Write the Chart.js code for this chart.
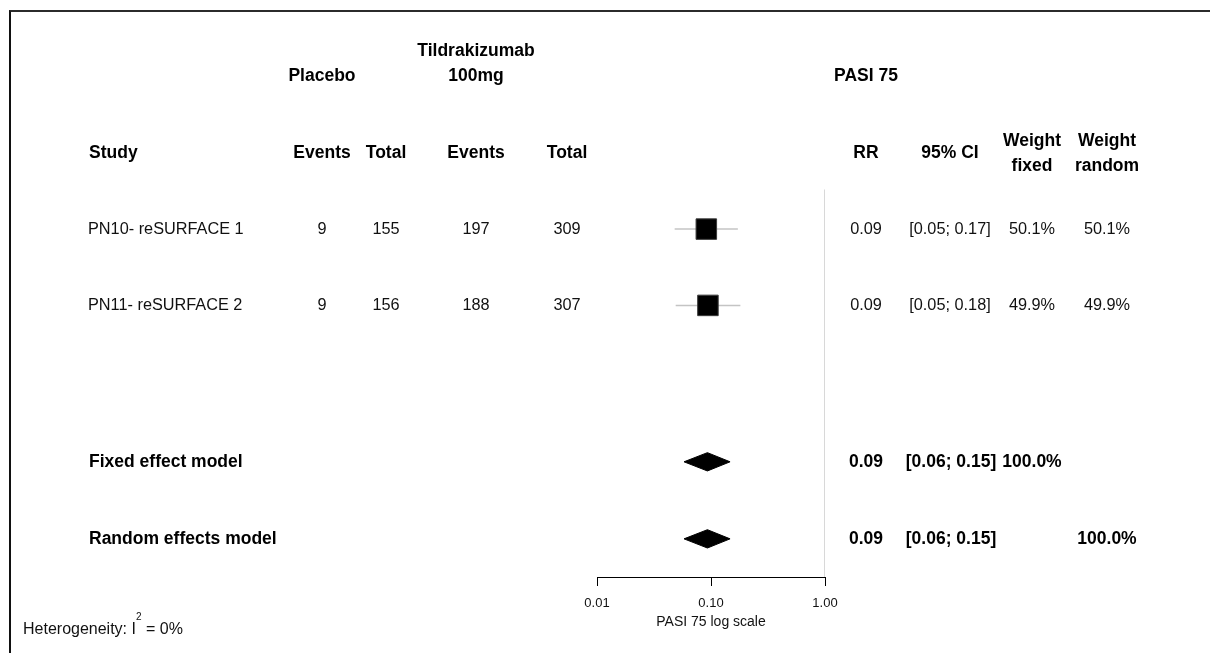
<!DOCTYPE html>
<html>
<head>
<meta charset="utf-8">
<title>PASI 75 forest plot</title>
<script src="https://cdn.jsdelivr.net/npm/chart.js@4.4.1/dist/chart.umd.min.js"></script>
<style>
  html, body { margin: 0; padding: 0; background: #fff; }
  #wrap { position: relative; width: 1210px; height: 653px; overflow: hidden; }
  #forest { position: absolute; left: 0; top: 0; }
  #frame {
    position: absolute; left: 9px; top: 10px; right: -4px; bottom: -4px;
    border-top: 2px solid #2b2b2b; border-left: 2px solid #111;
  }
</style>
</head>
<body>
<div id="wrap">
  <canvas id="forest" width="1210" height="653"></canvas>
  <div id="frame"></div>
</div>
<script>
/* ---------- DATA ---------- */
const studies = ["PN10- reSURFACE 1", "PN11- reSURFACE 2"];
const placeboEvents = [9, 9];
const placeboTotal = [155, 156];
const tildEvents = [197, 188];
const tildTotal = [309, 307];
const rr = [0.091, 0.094];
const ciLower = [0.048, 0.049];
const ciUpper = [0.172, 0.181];
const weightFixed = ["50.1%", "49.9%"];
const weightRandom = ["50.1%", "49.9%"];

const pooledNames = ["Fixed effect model", "Random effects model"];
const pooledRR = [0.093, 0.093];
const pooledLower = [0.058, 0.058];
const pooledUpper = [0.147, 0.147];
const pooledWeightFixed = ["100.0%", ""];
const pooledWeightRandom = ["", "100.0%"];

// table rows (y = row index, header row is 0)
const studyRows = [1, 2];
const pooledRows = [4.05, 5.06];
const axisTicks = [0.01, 0.1, 1];
const axisTitle = "PASI 75 log scale";

const FONT = '"Liberation Sans", Arial, sans-serif';
const DIAMOND_HALF = 0.12; // half height of summary diamonds, in rows
const Y_MIN = -1.8, Y_MAX = 5.56;

/* ---------- DATASETS ---------- */
const datasets = [];

// study squares (on top)
datasets.push({
  type: "scatter",
  data: rr.map((v, i) => ({ x: v, y: studyRows[i] })),
  pointStyle: "rect",
  pointRadius: 14.5,
  pointHoverRadius: 14.5,
  backgroundColor: "#000",
  borderColor: "#3a3a3a",
  borderWidth: 1,
  order: 0
});

// confidence interval lines
rr.forEach((v, i) => {
  datasets.push({
    type: "line",
    data: [{ x: ciLower[i], y: studyRows[i] }, { x: ciUpper[i], y: studyRows[i] }],
    borderColor: "#c4c4c4",
    borderWidth: 1.5,
    pointRadius: 0,
    order: 1
  });
});

// summary diamonds
pooledRR.forEach((v, i) => {
  const r = pooledRows[i];
  datasets.push({
    type: "line",
    data: [
      { x: pooledLower[i], y: r },
      { x: v, y: r - DIAMOND_HALF },
      { x: pooledUpper[i], y: r },
      { x: v, y: r + DIAMOND_HALF },
      { x: pooledLower[i], y: r }
    ],
    borderColor: "#000",
    backgroundColor: "#000",
    borderWidth: 1,
    pointRadius: 0,
    tension: 0,
    fill: "shape",
    order: 0
  });
});

// line of no effect
datasets.push({
  type: "line",
  data: [{ x: 1, y: 0.48 }, { x: 1, y: Y_MAX }],
  borderColor: "#d8d8d8",
  borderWidth: 2,
  pointRadius: 0,
  order: 2
});

/* ---------- TABLE TEXT ---------- */
const cols = { study: 89, pe: 322, pt: 386, te: 476, tt: 567, rr: 866, ci: 950, wf: 1032, wr: 1107 };

function fmtCI(lo, hi) {
  return "[" + lo.toFixed(2) + "; " + hi.toFixed(2) + "]";
}

const tablePlugin = {
  id: "forestTable",
  afterDraw(chart) {
    const ctx = chart.ctx;
    const row = v => chart.scales.y.getPixelForValue(v);
    const bold = "bold 17.5px " + FONT;
    const reg = "16.3px " + FONT;

    ctx.save();
    ctx.textBaseline = "middle";
    ctx.fillStyle = "#000";

    const put = (txt, x, y, font, align) => {
      ctx.font = font;
      ctx.textAlign = align || "center";
      ctx.fillText(String(txt), x, y);
    };

    // group headers
    put("Placebo", cols.pe, row(-1), bold);
    put("Tildrakizumab", cols.te, row(-1.335), bold);
    put("100mg", cols.te, row(-1), bold);
    put("PASI 75", cols.rr, row(-1), bold);

    // column headers
    put("Study", cols.study, row(0), bold, "left");
    put("Events", cols.pe, row(0), bold);
    put("Total", cols.pt, row(0), bold);
    put("Events", cols.te, row(0), bold);
    put("Total", cols.tt, row(0), bold);
    put("RR", cols.rr, row(0), bold);
    put("95% CI", cols.ci, row(0), bold);
    put("Weight", cols.wf, row(0) - 12, bold);
    put("fixed", cols.wf, row(0) + 13, bold);
    put("Weight", cols.wr, row(0) - 12, bold);
    put("random", cols.wr, row(0) + 13, bold);

    // studies
    ctx.fillStyle = "#111";
    studies.forEach((s, i) => {
      const y = row(studyRows[i]);
      put(s, cols.study - 1, y, reg, "left");
      put(placeboEvents[i], cols.pe, y, reg);
      put(placeboTotal[i], cols.pt, y, reg);
      put(tildEvents[i], cols.te, y, reg);
      put(tildTotal[i], cols.tt, y, reg);
      put(rr[i].toFixed(2), cols.rr, y, reg);
      put(fmtCI(ciLower[i], ciUpper[i]), cols.ci, y, reg);
      put(weightFixed[i], cols.wf, y, reg);
      put(weightRandom[i], cols.wr, y, reg);
    });

    // pooled models
    ctx.fillStyle = "#000";
    pooledNames.forEach((s, i) => {
      const y = row(pooledRows[i]);
      put(s, cols.study, y, bold, "left");
      put(pooledRR[i].toFixed(2), cols.rr, y, bold);
      put(fmtCI(pooledLower[i], pooledUpper[i]), cols.ci + 1, y, bold);
      put(pooledWeightFixed[i], cols.wf, y, bold);
      put(pooledWeightRandom[i], cols.wr, y, bold);
    });

    // heterogeneity note
    ctx.fillStyle = "#111";
    const hy = chart.height - 23;
    let hx = 23;
    ctx.textAlign = "left";
    ctx.font = "16px " + FONT;
    ctx.fillText("Heterogeneity: I", hx, hy);
    hx += ctx.measureText("Heterogeneity: I").width;
    ctx.font = "10px " + FONT;
    ctx.fillText("2", hx, hy - 13);
    hx += ctx.measureText("2").width;
    ctx.font = "16px " + FONT;
    ctx.fillText(" = 0%", hx, hy);

    ctx.restore();
  }
};

/* ---------- CHART ---------- */
new Chart(document.getElementById("forest"), {
  data: { datasets },
  options: {
    responsive: false,
    devicePixelRatio: 1,
    animation: false,
    events: [],
    layout: { padding: { left: 597, right: 385, top: 10, bottom: 0 } },
    plugins: { legend: { display: false }, tooltip: { enabled: false } },
    scales: {
      x: {
        type: "logarithmic",
        position: "bottom",
        min: 0.01,
        max: 1,
        afterBuildTicks: s => { s.ticks = axisTicks.map(v => ({ value: v })); },
        afterFit: s => { s.height = 76; },
        grid: { drawOnChartArea: false, drawTicks: true, tickLength: 9, color: "#000", lineWidth: 1 },
        border: { display: true, color: "#000", width: 1 },
        ticks: {
          padding: 10,
          color: "#111",
          autoSkip: false,
          maxRotation: 0,
          font: { family: FONT, size: 13 },
          callback: v => Number(v).toFixed(2)
        },
        title: {
          display: true,
          text: axisTitle,
          color: "#111",
          font: { family: FONT, size: 14 },
          padding: { top: 0, bottom: 22 }
        }
      },
      y: { type: "linear", reverse: true, min: Y_MIN, max: Y_MAX, display: false }
    }
  },
  plugins: [tablePlugin]
});
</script>
</body>
</html>
